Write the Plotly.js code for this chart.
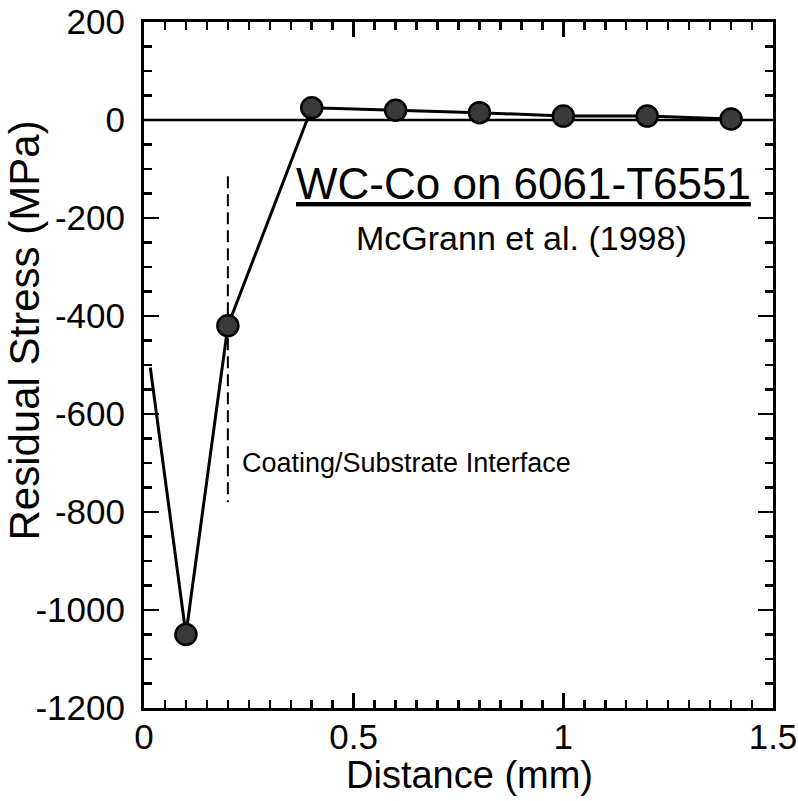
<!DOCTYPE html>
<html><head><meta charset="utf-8">
<script src="https://cdn.plot.ly/plotly-3.0.1.min.js"></script>
<style>body{margin:0;background:#fff}#c{width:798px;height:801px}</style>
</head><body><div id="c"></div>
<script>
const distance = [0.015, 0.1, 0.2, 0.4, 0.6, 0.8, 1.0, 1.2, 1.4];
const stress = [-505, -1050, -420, 25, 20, 15, 8, 8, 2];
const markerShown = [false, true, true, true, true, true, true, true, true];
const interfaceX = [0.2, 0.2];
const interfaceY = [-115, -780];
const zeroX = [0, 1.5];
const zeroY = [0, 0];
const xTickVals = [0, 0.5, 1, 1.5];
const xTickText = ['0', '0.5', '1', '1.5'];
const yTickVals = [-1200, -1000, -800, -600, -400, -200, 0, 200];
const yTickText = ['-1200', '-1000', '-800', '-600', '-400', '-200', '0', '200'];
const xTitle = 'Distance (mm)';
const yTitle = 'Residual Stress (MPa)';

const font = "Liberation Sans, Arial, sans-serif";
const traces = [
  {x: zeroX, y: zeroY, mode: 'lines', line: {color: '#000', width: 2.5}, hoverinfo: 'skip'},
  {x: interfaceX, y: interfaceY, mode: 'lines', line: {color: '#000', width: 2, dash: '12px,6px'}, hoverinfo: 'skip'},
  {x: distance, y: stress, mode: 'lines', line: {color: '#000', width: 3}},
  {x: distance.filter((d,i)=>markerShown[i]), y: stress.filter((d,i)=>markerShown[i]), mode: 'markers',
   marker: {size: 21, color: '#3a3a3a', line: {color: '#000', width: 2.5}}}
];
const axisCommon = {
  showline: true, linecolor: '#000', linewidth: 3, mirror: 'ticks', ticks: 'inside',
  tickcolor: '#000', tickwidth: 2.5, ticklen: 15, showgrid: false, zeroline: false,
  tickfont: {family: font, size: 35, color: '#000'}
};
const layout = {
  width: 798, height: 801, showlegend: false,
  paper_bgcolor: '#fff', plot_bgcolor: '#fff',
  margin: {l: 144, r: 25, t: 22, b: 93},
  xaxis: Object.assign({}, axisCommon, {
    range: [0, 1.5], tickmode: 'array', tickvals: xTickVals, ticktext: xTickText,
    ticklabelstandoff: -4,
    minor: {dtick: 0.05, tick0: 0, ticks: 'inside', ticklen: 8, tickwidth: 2.5, tickcolor: '#000', showgrid: false}
  }),
  yaxis: Object.assign({}, axisCommon, {
    range: [-1200, 200], tickmode: 'array', tickvals: yTickVals, ticktext: yTickText,
    ticklabelstandoff: 9,
    minor: {dtick: 50, tick0: 0, ticks: 'inside', ticklen: 8, tickwidth: 2.5, tickcolor: '#000', showgrid: false}
  }),
  annotations: [
    {x: 0.517, y: -0.097, xref: 'paper', yref: 'paper', text: xTitle, showarrow: false,
     xanchor: 'center', yanchor: 'middle', font: {family: font, size: 38, color: '#000'}},
    {x: -0.19, y: 0.551, xref: 'paper', yref: 'paper', text: yTitle, showarrow: false, textangle: -90,
     xanchor: 'center', yanchor: 'middle', font: {family: font, size: 42, color: '#000'}},
    {x: 0.904, y: -130, xref: 'x', yref: 'y', text: '<u>WC-Co on 6061-T6551</u>', showarrow: false,
     xanchor: 'center', yanchor: 'middle', font: {family: font, size: 44, color: '#000'}},
    {x: 0.9, y: -241, xref: 'x', yref: 'y', text: 'McGrann et al. (1998)', showarrow: false,
     xanchor: 'center', yanchor: 'middle', font: {family: font, size: 34, color: '#000'}},
    {x: 0.229, y: -700, xref: 'x', yref: 'y', text: 'Coating/Substrate Interface', showarrow: false,
     xanchor: 'left', yanchor: 'middle', font: {family: font, size: 27, color: '#000'}}
  ]
};
Plotly.newPlot('c', traces, layout, {displayModeBar: false, staticPlot: true});
</script></body></html>
